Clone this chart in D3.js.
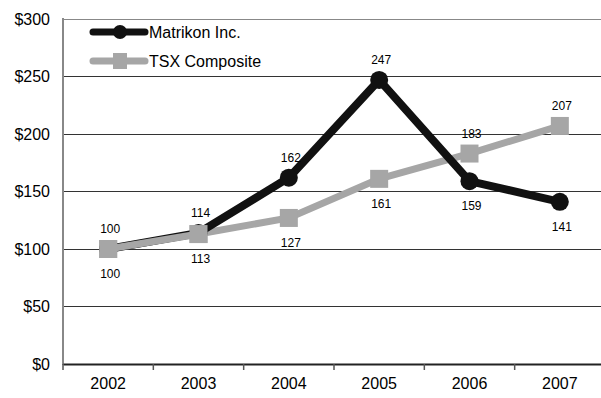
<!DOCTYPE html>
<html>
<head>
    <script src="https://cdn.jsdelivr.net/npm/d3@7"></script>
    <style>
        body { margin: 0; background: #fff; }
        text { font-family: "Liberation Sans", Arial, sans-serif; }
    </style>
</head>
<body>
    <svg width="601" height="398"></svg>
    <script>
        const years = ['2002', '2003', '2004', '2005', '2006', '2007']
        const matrikon = [100, 114, 162, 247, 159, 141]
        const tsx = [100, 113, 127, 161, 183, 207]
        // where each value label sits: 1 above the point, -1 below
        const matrikonLabelSide = [1, 1, 1, 1, -1, -1]
        const tsxLabelSide = [-1, -1, -1, -1, 1, 1]
        const yTicks = [0, 50, 100, 150, 200, 250, 300]

        const BLACK = '#111'
        const GRAY = '#a6a6a6'

        const svg = d3.select('svg')
        const x = d3.scaleBand().domain(years).range([63, 605])
        const y = d3.scaleLinear().domain([0, 300]).range([364, 19])
        const cx = d => x(d) + x.bandwidth() / 2

        // gridlines
        svg.selectAll('.grid').data(yTicks.filter(t => t > 0))
            .join('line')
            .attr('class', 'grid')
            .attr('x1', 63).attr('x2', 601)
            .attr('y1', d => y(d)).attr('y2', d => y(d))
            .attr('stroke', d => d === 300 ? '#888' : '#333')
            .attr('stroke-width', 1)
            .attr('shape-rendering', 'crispEdges')

        // y labels
        svg.selectAll('.ylab').data(yTicks)
            .join('text')
            .attr('class', 'ylab')
            .attr('x', 50)
            .attr('y', d => y(d) + 5.5)
            .attr('text-anchor', 'end')
            .attr('font-size', 16)
            .text(d => '$' + d)

        // left axis
        svg.append('line')
            .attr('x1', 63).attr('x2', 63).attr('y1', 18).attr('y2', 365)
            .attr('stroke', '#888').attr('stroke-width', 2)

        // bottom axis
        const xAxis = d3.axisBottom(x).tickSize(0).tickPadding(14)
        const gx = svg.append('g').attr('transform', 'translate(0,364)').call(xAxis)
        gx.select('.domain').attr('stroke', '#222').attr('stroke-width', 2)
        gx.selectAll('text').attr('font-size', 16).attr('fill', '#000')
            .style('font-family', '"Liberation Sans", Arial, sans-serif')
        // tick marks at band boundaries
        svg.selectAll('.xtick').data(years)
            .join('line')
            .attr('class', 'xtick')
            .attr('x1', d => x(d)).attr('x2', d => x(d))
            .attr('y1', 364).attr('y2', 370)
            .attr('stroke', '#555').attr('stroke-width', 1.5)

        const line = d3.line().x((d, i) => cx(years[i])).y(d => y(d))

        // TSX series
        svg.append('path').datum(tsx)
            .attr('d', line)
            .attr('fill', 'none').attr('stroke', GRAY).attr('stroke-width', 7)
        svg.selectAll('.sq').data(tsx)
            .join('rect')
            .attr('class', 'sq')
            .attr('x', (d, i) => cx(years[i]) - 9)
            .attr('y', d => y(d) - 9)
            .attr('width', 18).attr('height', 18)
            .attr('fill', GRAY)

        // Matrikon series
        svg.append('path').datum(matrikon)
            .attr('d', line)
            .attr('fill', 'none').attr('stroke', BLACK).attr('stroke-width', 8)
            .attr('stroke-linejoin', 'round')
        svg.selectAll('.dot').data(matrikon)
            .join('circle')
            .attr('class', 'dot')
            .attr('cx', (d, i) => cx(years[i]))
            .attr('cy', d => y(d))
            .attr('r', 9)
            .attr('fill', BLACK)

        // redraw TSX over the first two points like the original
        svg.append('path').datum(tsx.slice(0, 2))
            .attr('d', line)
            .attr('fill', 'none').attr('stroke', GRAY).attr('stroke-width', 7)
        svg.selectAll('.sq2').data(tsx.slice(0, 2))
            .join('rect')
            .attr('class', 'sq2')
            .attr('x', (d, i) => cx(years[i]) - 9)
            .attr('y', d => y(d) - 9)
            .attr('width', 18).attr('height', 18)
            .attr('fill', GRAY)

        // value labels
        function labels (vals, sides, cls) {
            svg.selectAll('.' + cls).data(vals)
                .join('text')
                .attr('class', cls)
                .attr('x', (d, i) => cx(years[i]) + 2)
                .attr('y', (d, i) => y(d) + (sides[i] > 0 ? -16 : 29))
                .attr('text-anchor', 'middle')
                .attr('font-size', 12)
                .text(d => d)
        }
        labels(matrikon, matrikonLabelSide, 'mlab')
        labels(tsx, tsxLabelSide, 'tlab')

        // legend
        const legend = [
            { name: 'Matrikon Inc.', color: BLACK, y: 32, shape: 'circle' },
            { name: 'TSX Composite', color: GRAY, y: 61, shape: 'square' }
        ]
        const lg = svg.selectAll('.lg').data(legend).join('g').attr('class', 'lg')
        lg.append('line')
            .attr('x1', 93).attr('x2', 145)
            .attr('y1', d => d.y).attr('y2', d => d.y)
            .attr('stroke', d => d.color).attr('stroke-width', 7)
            .attr('stroke-linecap', 'round')
        lg.each(function (d) {
            const g = d3.select(this)
            if (d.shape === 'circle') {
                g.append('circle').attr('cx', 120).attr('cy', d.y).attr('r', 7).attr('fill', d.color)
            } else {
                g.append('rect').attr('x', 113).attr('y', d.y - 8).attr('width', 14).attr('height', 16).attr('fill', d.color)
            }
        })
        lg.append('text')
            .attr('x', 149).attr('y', d => d.y + 5.5)
            .attr('font-size', 16)
            .text(d => d.name)
    </script>
</body>
</html>
